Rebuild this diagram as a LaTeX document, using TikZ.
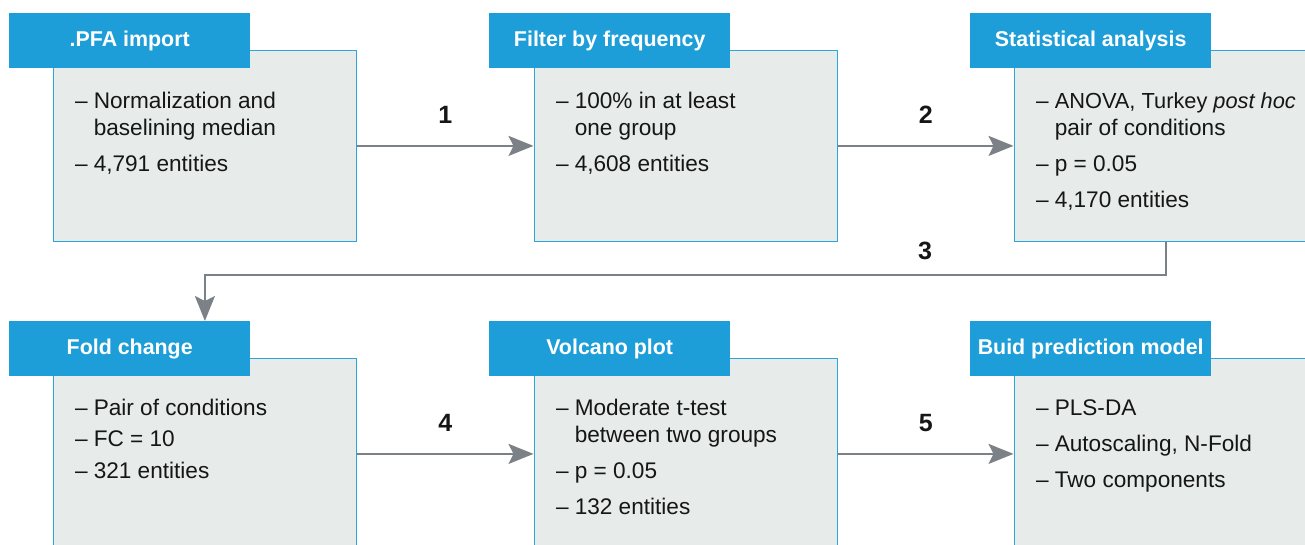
\documentclass[tikz,border=0pt]{standalone}
\usepackage{fontspec}
\setmainfont{Liberation Sans}
\usetikzlibrary{arrows.meta}
\definecolor{hdrblue}{HTML}{1E9ED8}
\definecolor{edgeblue}{HTML}{2AA5DD}
\definecolor{panelgrey}{HTML}{E7EBEA}
\definecolor{linkgrey}{HTML}{7C8087}
\definecolor{inkblack}{HTML}{161616}
\newcommand{\itemrows}[1]{\begin{tabular}[t]{@{}l@{\hspace{6pt}}l@{}}#1\end{tabular}}
\begin{document}
\begin{tikzpicture}[x=1pt,y=-1pt,
  panel/.style={draw=edgeblue, line width=1.8pt, fill=panelgrey,
    minimum width=303pt, minimum height=191pt, anchor=north west, inner sep=0pt},
  tab/.style={fill=hdrblue, text=white, minimum width=241pt, minimum height=55pt,
    anchor=north west, inner sep=0pt, font=\fontsize{21.4}{25}\selectfont\bfseries},
  itemtext/.style={anchor=base west, inner sep=0pt, text=inkblack,
    font=\fontsize{22.6}{27}\selectfont},
  conn/.style={draw=linkgrey, line width=2pt,
    -{Stealth[length=25pt, width=20pt, inset=5pt]}},
  steplabel/.style={inner sep=0pt, text=inkblack, font=\fontsize{25}{30}\selectfont\bfseries}]
\useasboundingbox (0,0) rectangle (1305,544);
\clip (0,0) rectangle (1305,544);

% panels, top row
\node[panel] (b1) at (52.5,49.5) {};
\node[panel] (b2) at (533.5,49.5) {};
\node[panel] (b3) at (1013.5,49.5) {};
% panels, bottom row
\node[panel] (b4) at (52.5,357.5) {};
\node[panel] (b5) at (533.5,357.5) {};
\node[panel] (b6) at (1013.5,357.5) {};

% header tabs
\node[tab] (h1) at (9,13) {.PFA import};
\node[tab] (h2) at (489,13) {Filter by frequency};
\node[tab] (h3) at (970,13) {Statistical analysis};
\node[tab] (h4) at (9,321) {Fold change};
\node[tab] (h5) at (489,321) {Volcano plot};
\node[tab] (h6) at (970,321) {Buid prediction model};

% panel contents
\node[itemtext] (t1) at (75,108) {\itemrows{
  – & Normalization and \\ & baselining median \\[9pt]
  – & 4,791 entities}};
\node[itemtext] (t2) at (556,108) {\itemrows{
  – & 100\% in at least \\ & one group \\[9pt]
  – & 4,608 entities}};
\node[itemtext] (t3) at (1036,108) {\itemrows{
  – & {\fontsize{21.8}{27}\selectfont ANOVA, Turkey \textit{post hoc}} \\ & pair of conditions \\[9pt]
  – & p = 0.05 \\[9pt]
  – & 4,170 entities}};
\node[itemtext] (t4) at (75,415) {\itemrows{
  – & Pair of conditions \\[4.5pt]
  – & FC = 10 \\[4.5pt]
  – & 321 entities}};
\node[itemtext] (t5) at (556,415) {\itemrows{
  – & Moderate t-test \\ & between two groups \\[9pt]
  – & p = 0.05 \\[9pt]
  – & 132 entities}};
\node[itemtext] (t6) at (1036,415) {\itemrows{
  – & PLS-DA \\[9pt]
  – & Autoscaling, N-Fold \\[9pt]
  – & Two components}};

% connectors
\draw[conn] (b1) -- (b2) node[steplabel, midway, above=21pt] (l1) {1};
\draw[conn] (b2) -- (b3) node[steplabel, midway, above=21pt] (l2) {2};
\coordinate (turn3) at (0,275);
\draw[conn] (b3.south) -- (b3.south |- turn3) -| (b4.north |- h4.north);
\node[steplabel, anchor=base] (l3) at (925,259) {3};
\draw[conn] (b4) -- (b5) node[steplabel, midway, above=21pt] (l4) {4};
\draw[conn] (b5) -- (b6) node[steplabel, midway, above=21pt] (l5) {5};
\end{tikzpicture}
\end{document}
